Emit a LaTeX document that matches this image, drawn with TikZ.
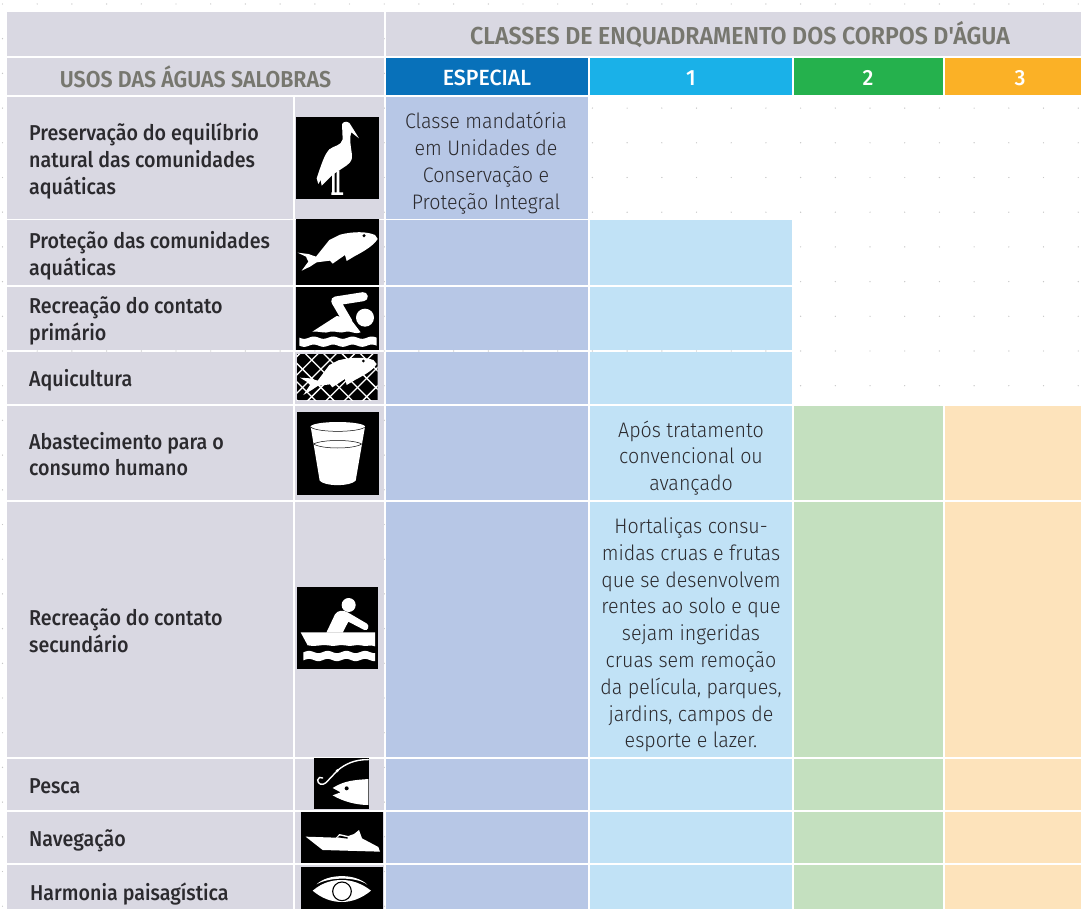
\documentclass[tikz,border=0pt]{standalone}
\usepackage{fontspec}
\setmainfont{Fira Sans Light}[FakeStretch=0.935]
\newfontfamily\semib{Fira Sans Medium}[FakeStretch=0.915]
\newfontfamily\headf{Fira Sans SemiBold}[FakeStretch=0.93]
\newfontfamily\titlef{Fira Sans SemiBold}[FakeStretch=0.945]
\newfontfamily\colf{Fira Sans Medium}[FakeStretch=0.97]
\definecolor{cgray}{HTML}{D9D8E2}
\definecolor{cblue}{HTML}{0871BA}
\definecolor{ccyan}{HTML}{1AB1E8}
\definecolor{cgreen}{HTML}{25B14D}
\definecolor{corange}{HTML}{FBB126}
\definecolor{lblue}{HTML}{B7C7E6}
\definecolor{lcyan}{HTML}{C1E2F6}
\definecolor{lgreen}{HTML}{C4E0BF}
\definecolor{lorange}{HTML}{FDE3BB}
\definecolor{hgray}{HTML}{77776F}
\definecolor{ink}{HTML}{2B2A2E}
\newcommand{\cell}[5]{\fill[#5] (#1,#3) rectangle (#2,#4);}
% full row across the four class columns
\newcommand{\fullrow}[2]{%
  \cell{385.5}{588}{#1}{#2}{lblue}\cell{589.5}{792}{#1}{#2}{lcyan}%
  \cell{794}{943}{#1}{#2}{lgreen}\cell{945}{1081}{#1}{#2}{lorange}}
\newcommand{\leftrow}[2]{\cell{7}{293}{#1}{#2}{cgray}\cell{295}{384}{#1}{#2}{cgray}}
% wave band: x0,x1,top y,thickness,period,amp
\newcommand{\waveband}[6]{\fill[white] plot[smooth,domain=#1:#2,samples=40] (\x,{#3+#6*sin(\x/#5*360)}) -- plot[smooth,domain=#2:#1,samples=40] (\x,{#3+#4+#6*sin(\x/#5*360)}) -- cycle;}
\tikzset{
  hdr/.style={font=\fontsize{23}{26}\headf, text=hgray, inner sep=0pt},
  titlehdr/.style={font=\fontsize{24.5}{26}\titlef, text=hgray, inner sep=0pt},
  colhead/.style={font=\fontsize{22}{26}\colf, text=white, inner sep=0pt},
  uselabel/.style={font=\fontsize{21.5}{26.8}\semib, text=ink, anchor=west, align=left, inner sep=0pt},
  cellnote/.style={font=\fontsize{21}{26.8}\selectfont, text=ink, align=center, inner sep=0pt},
  zoomed/.style={x=0.33333pt,y=-0.33333pt},
}
\begin{document}
\begin{tikzpicture}[x=1pt,y=-1pt]
\useasboundingbox (0,0) rectangle (1081,909);
% background dot grid
\foreach \i in {0,...,31}{\foreach \j in {0,...,26}{
  \fill[black!22] ({2.5+34.7*\i},{4+34.7*\j}) circle (0.7);}}
% header cells
\cell{7}{384}{12.5}{56}{cgray}
\cell{385.5}{1081}{12.5}{56}{cgray}
\cell{7}{384}{58}{95}{cgray}
\cell{385.5}{588}{58}{95}{cblue}
\cell{589.5}{792}{58}{95}{ccyan}
\cell{794}{943}{58}{95}{cgreen}
\cell{945}{1081}{58}{95}{corange}
% left columns
\leftrow{97}{219}\leftrow{220.5}{285}\leftrow{286.5}{350}\leftrow{352}{404}
\leftrow{405.5}{500}\leftrow{502}{757}\leftrow{759}{810}\leftrow{812}{863}\leftrow{865}{909}
% class cells
\cell{385.5}{588}{97}{219}{lblue}
\cell{385.5}{588}{220.5}{285}{lblue}\cell{589.5}{792}{220.5}{285}{lcyan}
\cell{385.5}{588}{286.5}{350}{lblue}\cell{589.5}{792}{286.5}{350}{lcyan}
\cell{385.5}{588}{352}{404}{lblue}\cell{589.5}{792}{352}{404}{lcyan}
\fullrow{405.5}{500}\fullrow{502}{757}\fullrow{759}{810}\fullrow{812}{863}\fullrow{865}{909}
% header text
\node[titlehdr] (title) at (740,35) {CLASSES DE ENQUADRAMENTO DOS CORPOS D'ÁGUA};
\node[hdr] (usos) at (195.5,76.5) {USOS DAS ÁGUAS SALOBRAS};
\node[colhead] (esp) at (487,78) {ESPECIAL};
\node[colhead] (c1) at (691,78) {1};
\node[colhead] (c2) at (868,78) {2};
\node[colhead] (c3) at (1020,78) {3};
% row labels
\node[uselabel] (u1) at (29,161) {Preservação do equilíbrio\\natural das comunidades\\aquáticas};
\node[uselabel] (u2) at (29,256) {Proteção das comunidades\\aquáticas};
\node[uselabel] (u3) at (29,321) {Recreação do contato\\primário};
\node[uselabel] (u4) at (29,380) {Aquicultura};
\node[uselabel] (u5) at (29,454) {Abastecimento para o\\consumo humano};
\node[uselabel] (u6) at (29,631) {Recreação do contato\\secundário};
\node[uselabel] (u7) at (29,786) {Pesca};
\node[uselabel] (u8) at (29,841) {Navegação};
\node[uselabel] (u9) at (30,894) {Harmonia paisagística};
% notes
\node[cellnote] (n1) at (486,163) {Classe mandatória\\em Unidades de\\Conservação e\\Proteção Integral};
\node[cellnote] (n2) at (691,458) {Após tratamento\\convencional ou\\avançado};
\node[cellnote] (n3) at (691,635) {Hortaliças consu-\\midas cruas e frutas\\que se desenvolvem\\rentes ao solo e que\\sejam ingeridas\\cruas sem remoção\\da película, parques,\\jardins, campos de\\esporte e lazer.};
% stork
\begin{scope}[shift={(280,100)},zoomed]
\fill[black] (49,50) rectangle (298,298);
\fill[white] (186,72) .. controls (192,62) and (208,62) .. (214,78) -- (237,115) -- (214,97) .. controls (208,112) and (211,130) .. (216,165) .. controls (218,185) and (207,192) .. (187,205) -- (158,224) -- (125,257) -- (122,240) -- (115,252) -- (110,235) .. controls (122,200) and (132,165) .. (148,148) .. controls (163,136) and (183,138) .. (188,118) -- cycle;
\fill[white] (156,215) rectangle (164,280) (170,212) rectangle (178,280) (154,277) rectangle (189,285);
% fish
\fill[black] (47,358) rectangle (298,555);
\fill[white] (293,417) -- (285,405) .. controls (260,394) and (220,394) .. (180,404) -- (148,420) -- (108,470) -- (85,462) -- (53,458) -- (78,470) -- (85,485) -- (65,512) -- (90,500) -- (110,487) -- (150,482) -- (158,491) -- (195,465) -- (200,483) -- (225,468) .. controls (255,452) and (280,437) .. (293,417) -- cycle;
\fill[black] (252,407) circle (5);
% swimmer
\fill[black] (48,560) rectangle (298,750);
\draw[white,line width=9pt,line cap=round,line join=miter] (250,590) -- (167,603);
\draw[white,line width=9pt,line join=miter] (167,603) -- (205,668);
\fill[white] (97,695) -- (170,648) -- (210,655) -- (242,697) .. controls (225,705) and (215,692) .. (198,695) .. controls (180,702) and (170,692) .. (150,695) .. controls (135,702) and (120,693) .. (97,695) -- cycle;
\fill[white] (255,653) circle (27);
\waveband{58}{290}{713}{24}{58}{3.5}
\end{scope}
% aquaculture
\begin{scope}[shift={(295,350)},zoomed]
\begin{scope}
\clip (5,13) rectangle (248,150);
\fill[black] (5,13) rectangle (248,150);
\foreach \k in {-200,-145,...,300}{
  \draw[white,line width=1.3pt] (\k,0) -- ({\k+170},170);
  \draw[white,line width=1.3pt] ({\k+170},0) -- (\k,170);}
\fill[white] (245,42) -- (235,30) .. controls (210,21) and (170,21) .. (130,31) -- (103,45) -- (68,92) -- (45,85) -- (15,83) -- (35,95) -- (45,105) -- (25,135) -- (50,120) -- (68,108) -- (105,103) -- (112,112) -- (150,87) -- (155,105) -- (180,90) .. controls (210,74) and (235,60) .. (245,42) -- cycle;
\fill[black] (205,33) circle (4.5);
\end{scope}
\end{scope}
% cup
\begin{scope}[shift={(295,410)},zoomed]
\fill[black] (5,7) rectangle (252,255);
\fill[white] (47,50) -- (74,212) .. controls (90,230) and (165,230) .. (182,212) -- (210,50) -- cycle;
\fill[white] (128.5,50) ellipse (81.5 and 14);
\draw[black,line width=0.5pt] (48,52) .. controls (70,68) and (186,68) .. (209,52);
\draw[black,line width=0.5pt] (56,102) .. controls (80,88) and (176,88) .. (200,102) .. controls (176,118) and (80,118) .. (56,102) -- cycle;
\end{scope}
% rower
\begin{scope}[shift={(295,585)},zoomed]
\fill[black] (5,5) rectangle (250,252);
\fill[white] (161,60) circle (21);
\fill[white] (94,143) -- (120,88) .. controls (127,76) and (145,74) .. (158,82) -- (216,116) .. controls (224,123) and (220,138) .. (208,135) -- (160,110) -- (143,143) -- cycle;
\fill[white] (17,142) -- (240,142) -- (240,184) .. controls (225,177) and (215,187) .. (198,181) .. controls (180,177) and (170,187) .. (150,181) .. controls (130,177) and (120,187) .. (100,181) .. controls (80,177) and (60,187) .. (38,181) -- cycle;
\waveband{25}{240}{201}{24}{56}{3.5}
\end{scope}
% fishing
\begin{scope}[shift={(280,750)},zoomed]
\fill[black] (103,24) rectangle (268,178);
\draw[white,line width=1.4pt,line cap=round] (265,29) .. controls (225,28) and (195,42) .. (172,62) -- (138,98) .. controls (128,108) and (112,102) .. (113,90) .. controls (114,82) and (122,80) .. (128,84);
\fill[white] (172,62) circle (5);
\fill[white] (265,87) .. controls (230,90) and (195,90) .. (158,114) -- (182,127) -- (158,136) .. controls (190,155) and (230,165) .. (265,165) -- cycle;
\fill[black] (200,115) circle (6);
% boat
\fill[black] (62,187) rectangle (310,340);
\fill[white] (77,260) -- (168,263) -- (178,252) -- (205,258) -- (222,252) -- (237,240) -- (246,265) -- (295,291) -- (300,305) -- (128,300) -- cycle;
\fill[black] (172,262) -- (180,257) -- (203,262) -- (203,266) -- cycle;
% eye
\fill[black] (62,350) rectangle (310,477);
\fill[white] (98,422) .. controls (130,395) and (160,390) .. (186,390) .. controls (215,390) and (245,400) .. (273,422) .. controls (245,445) and (215,456) .. (186,456) .. controls (155,456) and (125,445) .. (98,422) -- cycle;
\draw[black,line width=1.1pt] (186,424) circle (28);
\fill[white] (110,403) .. controls (140,372) and (225,368) .. (262,404) .. controls (225,378) and (145,382) .. (110,403) -- cycle;
\end{scope}
\end{tikzpicture}
\end{document}
